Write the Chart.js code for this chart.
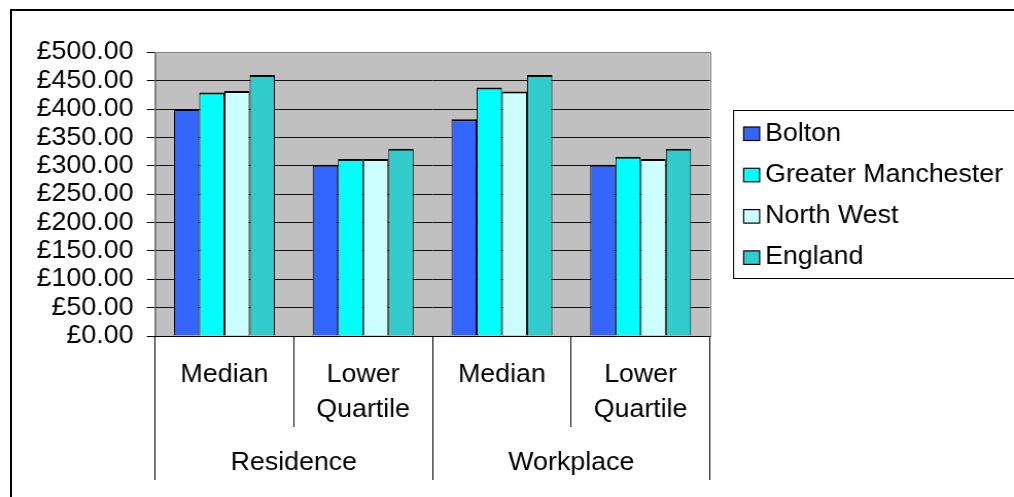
<!DOCTYPE html>
<html>
<head>
<meta charset="utf-8">
<script src="https://cdn.jsdelivr.net/npm/chart.js@4/dist/chart.umd.min.js"></script>
<style>
    html, body { margin: 0; padding: 0; background: #fff; overflow: hidden; }
    body { width: 1014px; height: 497px; position: relative; }
    .frame {
        position: absolute; left: 10px; top: 9px;
        width: 1100px; height: 600px;
        border: 2px solid #000;
    }
    /* chart is laid out slightly narrower, then widened to the page */
    .wrap {
        position: absolute; left: 0; top: 0;
        width: 985px; height: 497px;
        transform: scaleX(1.02944); transform-origin: 0 0;
    }
</style>
</head>
<body>
<div class="frame"></div>
<div class="wrap"><canvas id="earningsChart"></canvas></div>
<script>
    const categories = [['Median'], ['Lower', 'Quartile'], ['Median'], ['Lower', 'Quartile']];
    const groups = ['Residence', 'Workplace'];

    const bolton = [400, 302, 382, 302];
    const greaterManchester = [429, 312, 438, 316];
    const northWest = [432, 312, 431, 312];
    const england = [460, 330, 460, 330];

    const yMin = 0;
    const yMax = 500;
    const yStep = 50;

    const seriesNames = ['Bolton', 'Greater Manchester', 'North West', 'England'];
    const seriesColors = ['#3366FF', '#00FFFF', '#CCFFFF', '#33CCCC'];

    const FONT = '"Liberation Sans", Arial, sans-serif';
    Chart.defaults.font.family = FONT;
    Chart.defaults.font.size = 26;
    Chart.defaults.color = '#000';

    // grey plot background with a thin outline
    const plotBackground = {
        id: 'plotBackground',
        beforeDraw(chart) {
            const { ctx, chartArea: a } = chart;
            ctx.save();
            ctx.fillStyle = '#C0C0C0';
            ctx.fillRect(a.left, a.top, a.right - a.left, a.bottom - a.top);
            ctx.strokeStyle = '#808080';
            ctx.lineWidth = 1;
            ctx.strokeRect(Math.round(a.left) + 0.5, Math.round(a.top) + 0.5,
                Math.round(a.right - a.left), Math.round(a.bottom - a.top));
            ctx.restore();
        }
    };

    // boxed legend on the right, one row per dataset
    const boxLegend = {
        id: 'boxLegend',
        afterDraw(chart) {
            const ctx = chart.ctx;
            const left = 712.1, top = 110, bottom = 278;
            ctx.save();
            ctx.strokeStyle = '#000';
            ctx.lineWidth = 1;
            ctx.strokeRect(left + 0.5, top + 0.5, 320, bottom - top);
            ctx.font = '26px ' + FONT;
            ctx.textBaseline = 'alphabetic';
            ctx.textAlign = 'left';
            chart.data.datasets.forEach((ds, i) => {
                const base = 140.5 + i * 41.3;
                ctx.fillStyle = ds.backgroundColor;
                ctx.fillRect(722.4, base - 13.5, 15.5, 13.5);
                ctx.strokeStyle = '#000';
                ctx.lineWidth = 1.2;
                ctx.strokeRect(722.4, base - 13.5, 15.5, 13.5);
                ctx.fillStyle = '#000';
                ctx.fillText(ds.label, 743.2, base);
            });
            ctx.restore();
        }
    };

    const seriesData = [bolton, greaterManchester, northWest, england];

    new Chart(document.getElementById('earningsChart'), {
        type: 'bar',
        data: {
            labels: categories,
            datasets: seriesNames.map((name, i) => ({
                label: name,
                data: seriesData[i],
                backgroundColor: seriesColors[i],
                borderColor: '#000',
                borderWidth: { top: 2, left: 1, right: 1, bottom: 0 },
                borderSkipped: 'start',
                categoryPercentage: 4 / 5.5,
                barPercentage: 1
            }))
        },
        options: {
            responsive: true,
            maintainAspectRatio: false,
            animation: false,
            layout: { padding: { left: 30.6, right: 295.3, top: 52.3, bottom: 19 } },
            plugins: {
                legend: { display: false },
                tooltip: { enabled: false }
            },
            scales: {
                y: {
                    min: yMin,
                    max: yMax,
                    afterFit: (scale) => { scale.width = 120; },
                    ticks: {
                        stepSize: yStep,
                        autoSkip: false,
                        padding: 13,
                        callback: (v) => '£' + Number(v).toFixed(2)
                    },
                    grid: {
                        color: (c) => (c.tick && c.tick.value === yMax ? '#808080' : '#111'),
                        tickColor: '#000',
                        tickLength: 8,
                        lineWidth: 1
                    },
                    border: { display: true, color: '#808080', width: 1 }
                },
                x: {
                    position: 'bottom',
                    weight: 1,
                    afterFit: (scale) => { scale.height = 91; },
                    ticks: {
                        maxRotation: 0,
                        autoSkip: false,
                        padding: -70,
                        font: { lineHeight: 1.35 }
                    },
                    grid: {
                        offset: true,
                        drawOnChartArea: false,
                        tickLength: 91,
                        color: '#000'
                    },
                    border: { display: true, color: '#000', width: 1 }
                },
                xGroup: {
                    type: 'category',
                    position: 'bottom',
                    weight: 2,
                    labels: groups,
                    offset: true,
                    afterFit: (scale) => { scale.height = 51; },
                    ticks: {
                        maxRotation: 0,
                        autoSkip: false,
                        padding: -35,
                        font: { lineHeight: 1.35 }
                    },
                    grid: {
                        offset: true,
                        drawOnChartArea: false,
                        tickLength: 53,
                        color: '#000'
                    },
                    border: { display: false }
                }
            }
        },
        plugins: [plotBackground, boxLegend]
    });
</script>
</body>
</html>
